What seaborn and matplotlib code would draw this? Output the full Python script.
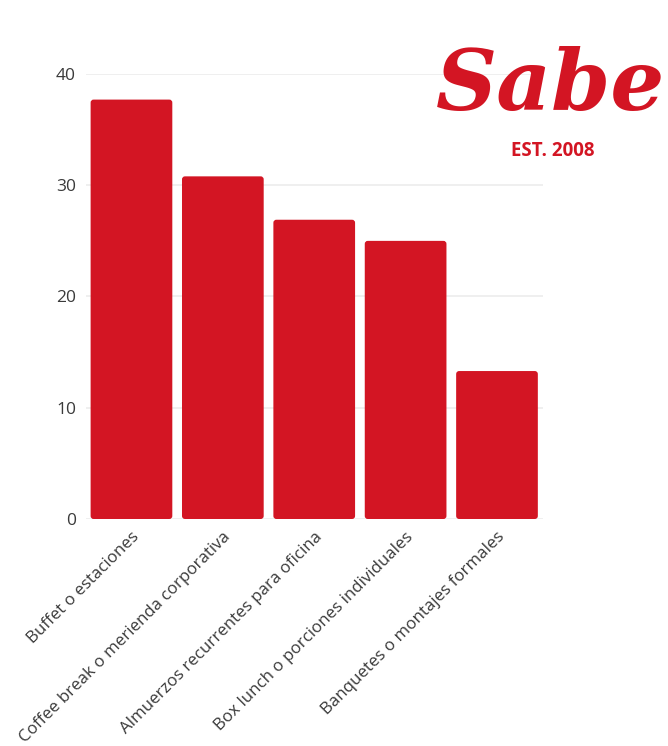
import matplotlib
matplotlib.use("Agg")
import matplotlib.pyplot as plt
from matplotlib.patches import FancyBboxPatch
import seaborn as sns
import pandas as pd

# Service formats and their counts
categories = [
    "Buffet o estaciones",
    "Coffee break o merienda corporativa",
    "Almuerzos recurrentes para oficina",
    "Box lunch o porciones individuales",
    "Banquetes o montajes formales",
]
values = [37.7, 30.8, 26.9, 25.0, 13.3]
y_ticks = [0, 10, 20, 30, 40]

brand_red = "#D31523"
text_gray = "#3a3a3a"
grid_gray = "#ececec"

df = pd.DataFrame({"formato": categories, "valor": values})

sns.set_theme(style="white")
plt.rcParams["font.family"] = ["Open Sans", "DejaVu Sans"]

fig = plt.figure(figsize=(6.68, 7.46), dpi=100)
ax = fig.add_axes([0.1284, 0.3043, 0.684, 0.5965])

sns.barplot(data=df, x="formato", y="valor", color=brand_red,
            saturation=1, width=0.894, ax=ax, zorder=3)

# Replace plain rectangles with slightly rounded ones
ax.set_xlim(-0.5, len(categories) - 0.5)
ax.set_ylim(0, 40)
px_per_x = 0.684 * 668 / len(categories)
px_per_y = 0.5965 * 746 / 40
radius_px = 3.0
for bar in list(ax.patches):
    x, y = bar.get_x(), bar.get_y()
    w, h = bar.get_width(), bar.get_height()
    rounded = FancyBboxPatch(
        (x, y), w, h,
        boxstyle=f"round,pad=0,rounding_size={radius_px / px_per_x}",
        mutation_aspect=px_per_x / px_per_y,
        facecolor=brand_red, edgecolor="none", zorder=3,
    )
    bar.remove()
    ax.add_patch(rounded)

ax.set_yticks(y_ticks)
ax.yaxis.grid(True, color=grid_gray, linewidth=1.2, zorder=0)
ax.xaxis.grid(False)
for side in ["top", "right", "left", "bottom"]:
    ax.spines[side].set_visible(False)

ax.set_xlabel("")
ax.set_ylabel("")
ax.tick_params(axis="y", length=0, pad=7, labelsize=12.5, labelcolor=text_gray)
ax.tick_params(axis="x", length=0, pad=7, labelsize=12.2, labelcolor=text_gray)
plt.setp(ax.get_xticklabels(), rotation=45, ha="right", rotation_mode="anchor")

# Brand mark in the upper right corner
fig.text(0.996, 0.8525, "Sabe", color=brand_red, fontsize=61,
         family="DejaVu Serif", fontstyle="italic", fontweight="bold",
         ha="right", va="baseline")
fig.text(0.828, 0.7976, "EST. 2008", color=brand_red, fontsize=13.5,
         fontweight="bold", ha="center", va="center")

fig.savefig("out.png", dpi=100, facecolor="white")
